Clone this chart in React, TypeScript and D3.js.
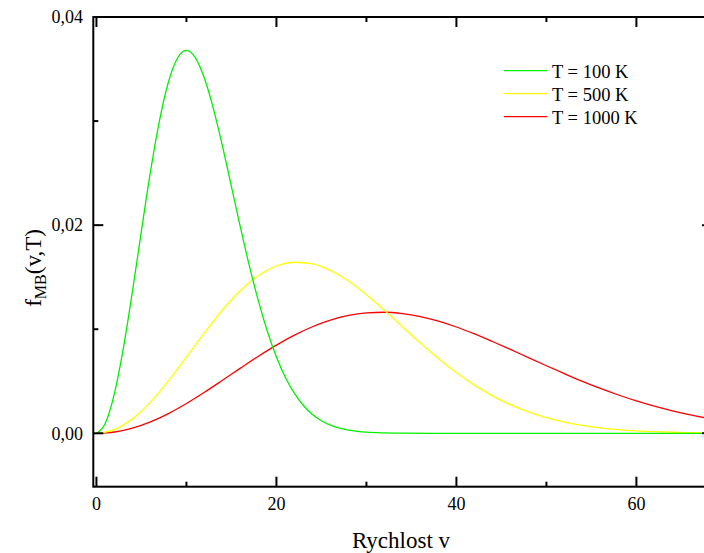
import React from "react";
import * as d3 from "d3";

// rychlost v (x values)
const vGreen = [
  0, 1, 2, 3, 4, 5, 6, 7, 8, 9, 10, 11, 12, 13, 14, 15, 16, 17, 18, 19, 20,
  21, 22, 23, 24, 25, 26, 27, 28, 29, 30, 32, 34, 40, 50, 60, 68,
];
const fT100 = [
  0, 0.00099, 0.00384, 0.00823, 0.01363, 0.01947, 0.02512, 0.03002, 0.03375,
  0.03604, 0.03679, 0.03608, 0.03411, 0.03118, 0.02761, 0.02371, 0.01979,
  0.01606, 0.0127, 0.00978, 0.00733, 0.00536, 0.00383, 0.00267, 0.00181,
  0.00121, 0.00078, 0.0005, 0.00031, 0.00019, 0.00011, 0.00004, 0.00001, 0, 0,
  0, 0,
];

const vWide = [
  0, 2, 4, 6, 8, 10, 12, 14, 16, 18, 20, 22, 24, 26, 28, 30, 32, 34, 36, 38,
  40, 42, 44, 46, 48, 50, 52, 54, 56, 58, 60, 62, 64, 66, 68,
];
const fT500 = [
  0, 0.000355, 0.001386, 0.002996, 0.005037, 0.007323, 0.009657, 0.011845,
  0.013722, 0.015159, 0.016075, 0.016437, 0.01628, 0.015648, 0.014634,
  0.013306, 0.011815, 0.010246, 0.008683, 0.007194, 0.005833, 0.004631,
  0.003603, 0.002748, 0.002057, 0.001507, 0.001084, 0.000766, 0.000531,
  0.000362, 0.000241, 0.000157, 0.000101, 0.000064, 0.00004,
];
const fT1000 = [
  0, 0.000126, 0.000498, 0.001098, 0.001898, 0.002861, 0.003943, 0.005094,
  0.006266, 0.00741, 0.008478, 0.009432, 0.010238, 0.010874, 0.011329,
  0.011571, 0.011631, 0.011507, 0.011216, 0.010776, 0.010215, 0.009549,
  0.008821, 0.008063, 0.007271, 0.00649, 0.005729, 0.004992, 0.00431,
  0.00368, 0.00311, 0.002603, 0.002155, 0.001767, 0.001435,
];

const seriesNames = ["T = 100 K", "T = 500 K", "T = 1000 K"];
const seriesColors = ["#00f000", "#ffff00", "#ff0000"];

const xMajor = [0, 20, 40, 60];
const xMinor = [10, 30, 50];
const yMajor = [0, 0.02, 0.04];
const yMinor = [0.01, 0.03];

const W = 704;
const H = 553;
const serif = "Liberation Serif, Times New Roman, serif";

export default function App() {
  const x = d3.scaleLinear().domain([-0.35, 68.4]).range([93.3, 712]);
  const y = d3.scaleLinear().domain([-0.00513, 0.04]).range([486.7, 17]);
  const [x0, x1] = x.range();
  const [yb, yt] = y.range();

  const line = d3
    .line<[number, number]>()
    .x((d) => x(d[0]))
    .y((d) => y(d[1]))
    .curve(d3.curveMonotoneX);

  const series = [
    vGreen.map((v, i) => [v, fT100[i]] as [number, number]),
    vWide.map((v, i) => [v, fT500[i]] as [number, number]),
    vWide.map((v, i) => [v, fT1000[i]] as [number, number]),
  ];
  const fmt = (d: number) => d.toFixed(2).replace(".", ",");

  return (
    <svg
      width={W}
      height={H}
      style={{ position: "absolute", left: 0, top: 0, background: "#fff", fontFamily: serif }}
    >
      <rect width={W} height={H} fill="#fff" />
      <defs>
        <clipPath id="plot">
          <rect x={x0} y={yt} width={x1 - x0} height={yb - yt} />
        </clipPath>
      </defs>

      {/* curves: red, yellow, then green on top */}
      <g clipPath="url(#plot)" fill="none" strokeWidth={1.3}>
        {[2, 1, 0].map((i) => (
          <path key={i} d={line(series[i]) || ""} stroke={seriesColors[i]} />
        ))}
      </g>

      {/* frame */}
      <rect
        x={x0}
        y={yt}
        width={x1 - x0}
        height={yb - yt}
        fill="none"
        stroke="#000"
        strokeWidth={2}
      />

      {/* ticks on all four sides, pointing inward */}
      <g stroke="#000" strokeWidth={2}>
        {xMajor.map((t) => (
          <g key={"xM" + t}>
            <line x1={x(t)} x2={x(t)} y1={yb} y2={yb - 10} />
            <line x1={x(t)} x2={x(t)} y1={yt} y2={yt + 10} />
          </g>
        ))}
        {xMinor.map((t) => (
          <g key={"xm" + t}>
            <line x1={x(t)} x2={x(t)} y1={yb} y2={yb - 5} />
            <line x1={x(t)} x2={x(t)} y1={yt} y2={yt + 5} />
          </g>
        ))}
        {yMajor.map((t) => (
          <g key={"yM" + t}>
            <line x1={x0} x2={x0 + 10} y1={y(t)} y2={y(t)} />
            <line x1={x1} x2={x1 - 10} y1={y(t)} y2={y(t)} />
          </g>
        ))}
        {yMinor.map((t) => (
          <g key={"ym" + t}>
            <line x1={x0} x2={x0 + 5} y1={y(t)} y2={y(t)} />
            <line x1={x1} x2={x1 - 5} y1={y(t)} y2={y(t)} />
          </g>
        ))}
      </g>

      {/* tick labels */}
      <g fontSize={18} fill="#000">
        {xMajor.map((t) => (
          <text key={"xl" + t} x={x(t)} y={510} textAnchor="middle">
            {t}
          </text>
        ))}
        {yMajor.map((t) => (
          <text key={"yl" + t} x={83} y={y(t)} dy="0.35em" textAnchor="end">
            {fmt(t)}
          </text>
        ))}
      </g>

      {/* axis titles */}
      <text x={401} y={548} fontSize={23} textAnchor="middle">
        Rychlost v
      </text>
      <text
        transform="translate(41,268) rotate(-90)"
        fontSize={23}
        textAnchor="middle"
      >
        f<tspan fontSize={16} dy={5}>MB</tspan>
        <tspan dy={-5}>(v,T)</tspan>
      </text>

      {/* legend */}
      <g fontSize={18.5}>
        {seriesNames.map((name, i) => (
          <g key={name} transform={`translate(0,${70.7 + i * 23})`}>
            <line x1={504} x2={547} y1={0} y2={0} stroke={seriesColors[i]} strokeWidth={1.3} />
            <text x={552} y={7}>
              {name}
            </text>
          </g>
        ))}
      </g>
    </svg>
  );
}
